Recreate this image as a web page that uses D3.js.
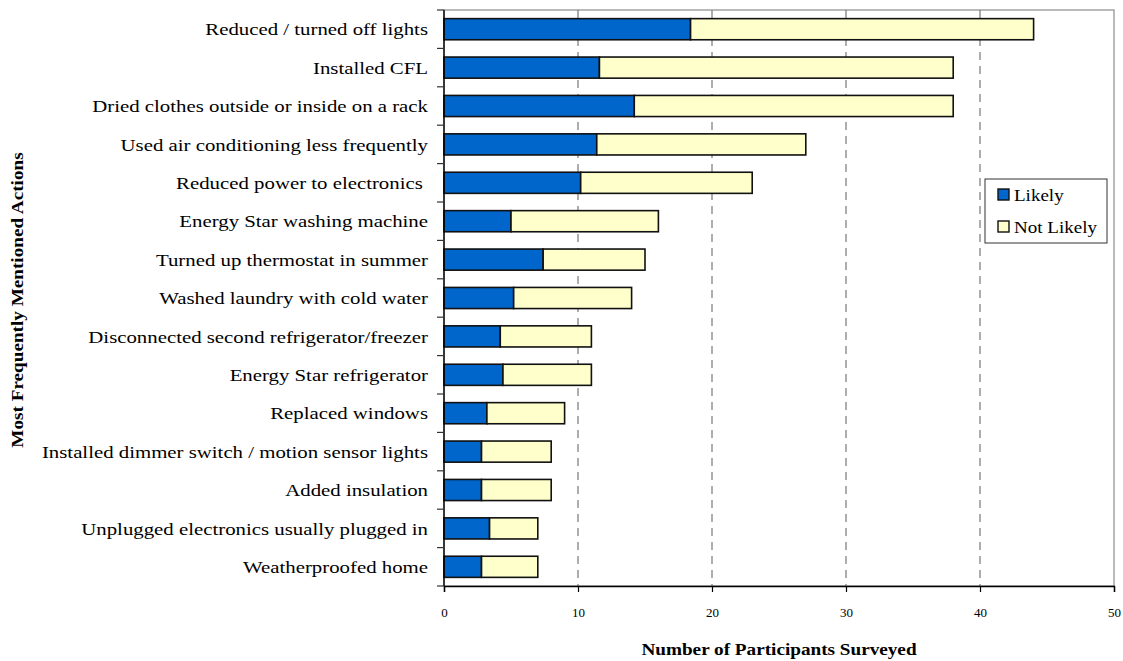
<!DOCTYPE html>
<html>
<head>
<meta charset="utf-8">
<script src="https://cdn.jsdelivr.net/npm/d3@7"></script>
<style>
  html, body { margin: 0; padding: 0; background: #fff; }
  svg { display: block; font-family: "Liberation Serif", "DejaVu Serif", serif; }
  .cat-label { white-space: pre; }
</style>
</head>
<body>
<svg id="chart" width="1123" height="661"></svg>
<script>
// Energy-saving actions, ordered from most to least mentioned
const categories = [
  "Reduced / turned off lights",
  "Installed CFL",
  "Dried clothes outside or inside on a rack",
  "Used air conditioning less frequently",
  "Reduced power to electronics ",
  "Energy Star washing machine",
  "Turned up thermostat in summer",
  "Washed laundry with cold water",
  "Disconnected second refrigerator/freezer",
  "Energy Star refrigerator",
  "Replaced windows",
  "Installed dimmer switch / motion sensor lights",
  "Added insulation",
  "Unplugged electronics usually plugged in",
  "Weatherproofed home"
];
const likely    = [18.4, 11.6, 14.2, 11.4, 10.2, 5.0, 7.4, 5.2, 4.2, 4.4, 3.2, 2.8, 2.8, 3.4, 2.8];
const notLikely = [25.6, 26.4, 23.8, 15.6, 12.8, 11.0, 7.6, 8.8, 6.8, 6.6, 5.8, 5.2, 5.2, 3.6, 4.2];
const seriesNames = ["Likely", "Not Likely"];
const xTicks = [0, 10, 20, 30, 40, 50];

const colors = { "Likely": "#0066CC", "Not Likely": "#FFFFCC" };

// The serif face available here is narrower than a book face, so labels get a mild horizontal stretch
const WIDE = 1.19;
const WIDE_BOLD = 1.2;

const svg = d3.select("#chart");
const plot = { left: 444, right: 1114, top: 10, bottom: 586 };

const x = d3.scaleLinear().domain([0, 50]).range([plot.left, plot.right]);
const y = d3.scaleBand().domain(categories).range([plot.top, plot.bottom])
  .paddingInner(0.45).paddingOuter(0.225);

const rows = categories.map((c, i) => ({ category: c, "Likely": likely[i], "Not Likely": notLikely[i] }));
const stacked = d3.stack().keys(seriesNames)(rows);

// Plot frame (gray top/right edges)
svg.append("rect")
  .attr("x", plot.left).attr("y", plot.top)
  .attr("width", plot.right - plot.left).attr("height", plot.bottom - plot.top)
  .attr("fill", "none").attr("stroke", "#8c8c8c").attr("stroke-width", 1.2);

// Dashed vertical gridlines
svg.append("g").selectAll("line")
  .data(xTicks.filter(t => t > 0 && t < 50))
  .join("line")
  .attr("x1", d => x(d)).attr("x2", d => x(d))
  .attr("y1", plot.top).attr("y2", plot.bottom)
  .attr("stroke", "#777").attr("stroke-width", 1.2)
  .attr("stroke-dasharray", "8,6");

// Stacked bars
svg.append("g").selectAll("g")
  .data(stacked)
  .join("g")
  .attr("fill", d => colors[d.key])
  .selectAll("rect")
  .data(d => d)
  .join("rect")
  .attr("x", d => x(d[0]))
  .attr("y", d => y(d.data.category))
  .attr("width", d => x(d[1]) - x(d[0]))
  .attr("height", y.bandwidth())
  .attr("stroke", "#111").attr("stroke-width", 1.6);

// Y axis: ticks between categories
const yAxisG = svg.append("g");
yAxisG.append("line")
  .attr("x1", plot.left).attr("x2", plot.left)
  .attr("y1", plot.top).attr("y2", plot.bottom)
  .attr("stroke", "#000").attr("stroke-width", 1.4);
const boundaries = d3.range(categories.length + 1).map(i => plot.top + i * y.step());
yAxisG.selectAll("line.tick")
  .data(boundaries).join("line").attr("class", "tick")
  .attr("x1", plot.left - 7).attr("x2", plot.left)
  .attr("y1", d => d).attr("y2", d => d)
  .attr("stroke", "#333").attr("stroke-width", 1.2);
yAxisG.selectAll("text")
  .data(categories).join("text")
  .attr("class", "cat-label")
  .attr("transform", d => `translate(${plot.left - 16},${y(d) + y.bandwidth() / 2}) scale(${WIDE},1)`)
  .attr("dy", "0.35em")
  .attr("text-anchor", "end")
  .attr("font-size", 17.5)
  .attr("fill", "#000")
  .text(d => d);

// X axis
const xAxis = d3.axisBottom(x).tickValues(xTicks).tickSize(6).tickPadding(16);
const xAxisG = svg.append("g")
  .attr("transform", `translate(0,${plot.bottom})`)
  .call(xAxis);
xAxisG.select(".domain").attr("stroke", "#000").attr("stroke-width", 1.4);
xAxisG.selectAll(".tick line").attr("stroke", "#000").attr("stroke-width", 1.2);
xAxisG.selectAll(".tick text")
  .attr("font-family", "Liberation Serif, serif")
  .attr("font-size", 13).attr("fill", "#000");

// Axis titles
svg.append("text")
  .attr("transform", `translate(${(plot.left + plot.right) / 2},655) scale(${WIDE_BOLD},1)`)
  .attr("text-anchor", "middle")
  .attr("font-size", 16).attr("font-weight", "bold")
  .text("Number of Participants Surveyed");

svg.append("text")
  .attr("transform", `translate(23,${(plot.top + plot.bottom) / 2 + 2}) rotate(-90) scale(${WIDE_BOLD},1)`)
  .attr("text-anchor", "middle")
  .attr("font-size", 16).attr("font-weight", "bold")
  .text("Most Frequently Mentioned Actions");

// Legend
const legend = svg.append("g").attr("transform", "translate(985,179)");
legend.append("rect")
  .attr("width", 122).attr("height", 64)
  .attr("fill", "#fff").attr("stroke", "#333").attr("stroke-width", 1);
const legendItems = legend.selectAll("g.item")
  .data(seriesNames).join("g").attr("class", "item")
  .attr("transform", (d, i) => `translate(13,${10 + i * 32})`);
legendItems.append("rect")
  .attr("width", 11).attr("height", 11)
  .attr("fill", d => colors[d]).attr("stroke", "#111").attr("stroke-width", 1.4);
legendItems.append("text")
  .attr("transform", "translate(16,6) scale(1.12,1)")
  .attr("dy", "0.35em")
  .attr("font-size", 17).text(d => d);
</script>
</body>
</html>
